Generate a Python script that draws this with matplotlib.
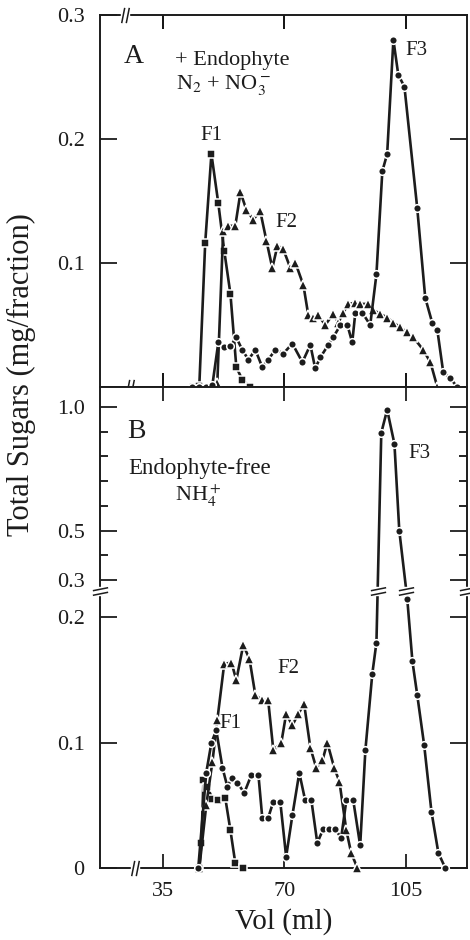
import numpy as np
import matplotlib.pyplot as plt
from matplotlib.path import Path

plt.rcParams['font.family'] = ['Liberation Serif', 'DejaVu Serif']
plt.rcParams['mathtext.fontset'] = 'stix'

# ---- panel A: + Endophyte, N2 + NO3-
a_f1_x = [43.7, 45.4, 47.1, 48.9, 50.9, 52.6, 54.4, 56.1, 57.8, 60.1]
a_f1_y = [0.0, 0.001, 0.116, 0.188, 0.148, 0.110, 0.075, 0.016, 0.006, 0.0]

a_f2_x = [48.6, 50.6, 52.3, 53.8, 55.8, 57.3, 59.0, 61.0, 63.0, 64.8, 66.5, 68.0,
          69.7, 71.7, 73.2, 75.5, 76.9, 78.4, 79.8, 81.8, 84.1, 85.6, 87.0, 88.5,
          90.5, 91.9, 94.2, 95.7, 97.7, 99.7, 101.5, 103.5, 105.5, 107.3, 110.1,
          112.2, 114.2]
a_f2_y = [0.0, 0.003, 0.126, 0.130, 0.130, 0.157, 0.143, 0.135, 0.142, 0.118,
          0.096, 0.114, 0.111, 0.096, 0.100, 0.082, 0.058, 0.056, 0.058, 0.050,
          0.059, 0.052, 0.060, 0.067, 0.068, 0.067, 0.067, 0.062, 0.059, 0.056,
          0.052, 0.048, 0.044, 0.040, 0.030, 0.020, 0.0]

a_f3_x = [43.4, 45.4, 47.4, 49.2, 50.9, 52.6, 54.4, 56.1, 57.8, 59.6, 61.6, 63.6,
          65.3, 67.4, 69.7, 72.3, 75.2, 77.5, 78.9, 80.4, 82.7, 84.1, 86.2, 88.2,
          89.6, 90.5, 92.5, 94.8, 96.6, 98.3, 99.7, 101.5, 102.9, 104.7, 108.4,
          110.7, 112.7, 114.2, 115.9, 117.9, 120.0]
a_f3_y = [0.0, 0.0, 0.0, 0.002, 0.036, 0.032, 0.033, 0.040, 0.030, 0.022, 0.030,
          0.016, 0.022, 0.030, 0.027, 0.035, 0.020, 0.034, 0.015, 0.024, 0.034,
          0.040, 0.050, 0.050, 0.036, 0.060, 0.060, 0.050, 0.091, 0.174, 0.188,
          0.280, 0.252, 0.242, 0.144, 0.072, 0.052, 0.046, 0.012, 0.007, 0.0]

# ---- panel B: Endophyte-free, NH4+
b_f1_x = [45.4, 46.0, 46.6, 47.7, 49.2, 50.9, 52.9, 54.4, 55.8, 58.1]
b_f1_y = [0.0, 0.020, 0.070, 0.065, 0.055, 0.054, 0.056, 0.030, 0.004, 0.0]

b_f2_x = [45.4, 47.4, 49.2, 50.6, 52.6, 54.7, 56.1, 58.1, 59.9, 61.6, 63.6, 65.3,
          66.8, 69.1, 70.5, 72.3, 74.0, 75.7, 77.5, 79.2, 81.0, 82.4, 84.4, 85.9,
          87.9, 89.3, 91.1]
b_f2_y = [0.0, 0.050, 0.085, 0.118, 0.163, 0.164, 0.150, 0.178, 0.167, 0.138,
          0.134, 0.134, 0.094, 0.100, 0.123, 0.114, 0.123, 0.131, 0.096, 0.080,
          0.086, 0.100, 0.080, 0.069, 0.030, 0.012, 0.0]

b_f3_x = [45.1, 47.4, 48.9, 50.3, 52.1, 53.5, 54.9, 56.4, 58.4, 60.4, 62.5, 63.6,
          65.3, 66.8, 68.8, 70.5, 72.3, 74.3, 76.0, 77.8, 79.5, 81.2, 83.0, 84.7,
          86.4, 87.9, 89.9, 91.9, 93.4, 95.4, 96.6, 98.0, 99.7, 101.8, 103.2,
          105.5, 107.0, 108.4, 110.4, 112.5, 114.5, 116.5]
b_f3_y = [0.0, 0.076, 0.100, 0.110, 0.080, 0.065, 0.072, 0.068, 0.060, 0.074,
          0.074, 0.040, 0.040, 0.053, 0.053, 0.009, 0.042, 0.076, 0.054, 0.054,
          0.020, 0.031, 0.031, 0.031, 0.024, 0.054, 0.054, 0.018, 0.094, 0.155,
          0.180, 0.895, 0.988, 0.850, 0.500, 0.215, 0.165, 0.138, 0.098, 0.045,
          0.012, 0.0]

# broken y scale of panel B: 0-0.22 linear, jump, 0.26-1.08 compressed
LO, HI, R, G = 0.22, 0.26, 0.1976, 0.05


def fwd(y):
    y = np.asarray(y, float)
    return np.where(y <= LO, y,
                    np.where(y <= HI, LO + (y - LO) * G,
                             LO + (HI - LO) * G + (y - HI) * R))


def inv(v):
    v = np.asarray(v, float)
    v1 = LO + (HI - LO) * G
    return np.where(v <= LO, v,
                    np.where(v <= v1, LO + (v - LO) / G, HI + (v - v1) / R))


ink = '#1c1c1c'
XMIN, XMAX = 16.7, 122.8


def series(ax, x, y, marker, ms=5.5):
    ax.plot(x, y, color=ink, lw=1.9, marker=marker, ms=ms, mfc=ink,
            mec='white', mew=1.1, clip_on=False, zorder=3)


# break marks: two slanted strokes
brk_v = Path([(-2.5, -5), (-0.5, 5), (0.5, -5), (2.5, 5)],
             [Path.MOVETO, Path.LINETO, Path.MOVETO, Path.LINETO])
brk_h = Path([(-5, -2.5), (5, -0.5), (-5, 0.5), (5, 2.5)],
             [Path.MOVETO, Path.LINETO, Path.MOVETO, Path.LINETO])


def xbreak(ax, x, y):
    ax.plot([x], [y], marker='s', ms=6, mfc='white', mec='white', clip_on=False, zorder=5)
    ax.plot([x], [y], marker=brk_v, ms=11, mfc='none', mec=ink, mew=1.1, clip_on=False, zorder=6)


def ybreak(ax, x, y):
    ax.plot([x], [y], marker='s', ms=6, mfc='white', mec='white', clip_on=False, zorder=5)
    ax.plot([x], [y], marker=brk_h, ms=11, mfc='none', mec=ink, mew=1.1, clip_on=False, zorder=6)


fig = plt.figure(figsize=(4.7, 9.4), dpi=100)
axA = fig.add_axes([0.2128, 0.5883, 0.781, 0.3957])
axB = fig.add_axes([0.2128, 0.0766, 0.781, 0.5117])

# ---- panel A
series(axA, a_f1_x, a_f1_y, 's')
series(axA, a_f2_x, a_f2_y, '^', 6.5)
series(axA, a_f3_x, a_f3_y, 'o')
axA.set_xlim(XMIN, XMAX)
axA.set_ylim(0, 0.3)
axA.set_yticks([0.1, 0.2, 0.3])
axA.set_yticklabels(['0.1', '0.2', '0.3'])
axA.set_xticks([35, 70, 105])
axA.tick_params(axis='x', direction='in', length=10, width=1.3, top=True, bottom=True,
                labelbottom=False)
axA.tick_params(axis='y', direction='in', length=12, width=1.3, left=True, right=True,
                labelsize=16, pad=11, colors=ink)
xbreak(axA, 25.5, 0.0)
xbreak(axA, 24.0, 0.3)

axA.text(23.7, 0.261, 'A', fontsize=20, color=ink)
axA.text(38.5, 0.260, '+ Endophyte', fontsize=16, color=ink)
axA.text(38.8, 0.240, r'N$_2$ + NO$_3^-$', fontsize=16, color=ink)
axA.text(45.7, 0.199, 'F1', fontsize=15, color=ink)
axA.text(67.4, 0.129, 'F2', fontsize=15, color=ink)
axA.text(105.0, 0.268, 'F3', fontsize=15, color=ink)

# ---- panel B
axB.set_yscale('function', functions=(fwd, inv))
series(axB, b_f1_x, b_f1_y, 's')
series(axB, b_f2_x, b_f2_y, '^', 6.5)
series(axB, b_f3_x, b_f3_y, 'o')
axB.set_xlim(XMIN, XMAX)
axB.set_ylim(0, 1.08)
axB.set_yticks([0, 0.1, 0.2, 0.3, 0.5, 1.0])
axB.set_yticklabels(['0', '0.1', '0.2', '0.3', '0.5', '1.0'])
axB.set_yticks([0.4, 0.6, 0.7, 0.8, 0.9], minor=True)
axB.set_xticks([35, 70, 105])
axB.set_xticklabels(['35', '70', '105'])
axB.tick_params(axis='x', direction='in', length=10, width=1.3, top=True, bottom=True,
                labelsize=16, pad=10, colors=ink)
axB.tick_params(axis='y', which='major', direction='in', length=12, width=1.3,
                left=True, right=True, labelsize=16, pad=11, colors=ink)
axB.tick_params(axis='y', which='minor', direction='in', length=6, width=1.2,
                left=True, right=True)
axB.set_xlabel('Vol (ml)', fontsize=21, color=ink, labelpad=5)

ybrk = 0.24
xbreak(axB, 26.9, 0.0)
ybreak(axB, XMIN, ybrk)
ybreak(axB, XMAX, ybrk)
# where the F3 line crosses the axis break
fx = np.asarray(b_f3_x)
fy = fwd(b_f3_y)
t = float(fwd(ybrk))
for i in range(len(fx) - 1):
    if (fy[i] - t) * (fy[i + 1] - t) < 0:
        xc = fx[i] + (t - fy[i]) / (fy[i + 1] - fy[i]) * (fx[i + 1] - fx[i])
        ybreak(axB, xc, ybrk)

axB.text(24.6, 0.875, 'B', fontsize=20, color=ink)
axB.text(24.9, 0.73, 'Endophyte-free', fontsize=16.5, color=ink)
axB.text(38.5, 0.62, r'NH$_4^+$', fontsize=16, color=ink)
axB.text(105.8, 0.794, 'F3', fontsize=15, color=ink)
axB.text(68.0, 0.156, 'F2', fontsize=15, color=ink)
axB.text(51.2, 0.1115, 'F1', fontsize=15, color=ink)

for ax in (axA, axB):
    for s in ax.spines.values():
        s.set_linewidth(1.4)
        s.set_color(ink)

fig.text(0.045, 0.601, 'Total Sugars (mg/fraction)', rotation=90, ha='center',
         va='center', fontsize=22, color=ink)

fig.savefig('out.png', dpi=100)
